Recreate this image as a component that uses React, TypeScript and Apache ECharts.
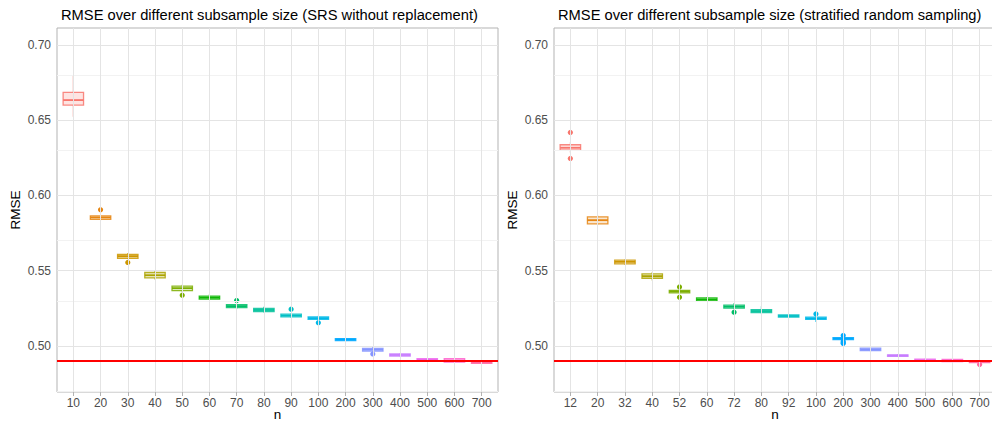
import React, { useEffect, useRef } from "react";
import * as echarts from "echarts";

// ---------- data ----------
const CATS_SRS = ["10", "20", "30", "40", "50", "60", "70", "80", "90", "100", "200", "300", "400", "500", "600", "700"];
const CATS_STRAT = ["12", "20", "32", "40", "52", "60", "72", "80", "92", "100", "200", "300", "400", "500", "600", "700"];

// [lower whisker, Q1, median, Q3, upper whisker]
const BOXES_SRS: number[][] = [
  [0.6523, 0.6601, 0.6634, 0.6685, 0.6800],
  [0.5835, 0.5841, 0.5854, 0.5865, 0.5872],
  [0.5578, 0.5583, 0.5597, 0.5608, 0.5617],
  [0.5442, 0.5452, 0.5470, 0.5488, 0.5504],
  [0.5360, 0.5368, 0.5384, 0.5397, 0.5406],
  [0.5305, 0.5311, 0.5321, 0.5331, 0.5346],
  [0.5246, 0.5255, 0.5265, 0.5275, 0.5280],
  [0.5222, 0.5229, 0.5239, 0.5249, 0.5260],
  [0.5187, 0.5193, 0.5202, 0.5211, 0.5218],
  [0.5165, 0.5176, 0.5185, 0.5193, 0.5200],
  [0.5032, 0.5036, 0.5043, 0.5049, 0.5054],
  [0.4958, 0.4965, 0.4975, 0.4983, 0.4996],
  [0.4930, 0.4933, 0.4940, 0.4947, 0.4952],
  [0.4895, 0.4900, 0.4908, 0.4916, 0.4920],
  [0.4890, 0.4892, 0.4904, 0.4916, 0.4920],
  [0.4882, 0.4885, 0.4891, 0.4898, 0.4902],
];
// [category index, value]
const OUTLIERS_SRS: number[][] = [
  [1, 0.5905],
  [2, 0.5555],
  [4, 0.5337],
  [6, 0.5302],
  [8, 0.5244],
  [9, 0.5155],
  [11, 0.4947],
];

const BOXES_STRAT: number[][] = [
  [0.6286, 0.6302, 0.6317, 0.6337, 0.6353],
  [0.5805, 0.5811, 0.5836, 0.5858, 0.5867],
  [0.5540, 0.5545, 0.5559, 0.5570, 0.5575],
  [0.5435, 0.5450, 0.5464, 0.5479, 0.5492],
  [0.5345, 0.5353, 0.5362, 0.5370, 0.5378],
  [0.5296, 0.5299, 0.5309, 0.5319, 0.5322],
  [0.5245, 0.5251, 0.5261, 0.5271, 0.5286],
  [0.5216, 0.5222, 0.5232, 0.5242, 0.5264],
  [0.5188, 0.5191, 0.5199, 0.5206, 0.5210],
  [0.5160, 0.5176, 0.5183, 0.5191, 0.5198],
  [0.5038, 0.5043, 0.5049, 0.5056, 0.5060],
  [0.4958, 0.4969, 0.4977, 0.4985, 0.4990],
  [0.4928, 0.4931, 0.4936, 0.4940, 0.4947],
  [0.4895, 0.4898, 0.4905, 0.4912, 0.4916],
  [0.4893, 0.4896, 0.4903, 0.4910, 0.4913],
  [0.4887, 0.4890, 0.4895, 0.4900, 0.4903],
];
const OUTLIERS_STRAT: number[][] = [
  [0, 0.6419],
  [0, 0.6246],
  [4, 0.5392],
  [4, 0.5324],
  [6, 0.5224],
  [9, 0.5213],
  [10, 0.5069],
  [10, 0.5031],
  [10, 0.5022],
  [10, 0.5016],
  [15, 0.4876],
];

const REFERENCE_RMSE = 0.4925;
const Y_TICKS = [0.5, 0.55, 0.6, 0.65, 0.7];
const Y_MINOR = [0.475, 0.525, 0.575, 0.625, 0.675];
const Y_MIN = 0.4694;
const Y_MAX = 0.7113;

const PALETTE = [
  "#F8766D", "#E68613", "#CD9600", "#ABA300", "#7CAE00", "#0CB702", "#00BE67", "#00C19A",
  "#00BFC4", "#00B8E7", "#00A9FF", "#8494FF", "#C77CFF", "#ED68ED", "#FF61CC", "#FF68A1",
];

const TITLES = [
  "RMSE over different subsample size (SRS without replacement)",
  "RMSE over different subsample size (stratified random sampling)",
];

// ---------- styling ----------
const FONT = "'Liberation Sans', Arial, Helvetica, sans-serif";
const BOX_WIDTH = 0.75;
const GRID_LEFT = [57, 554];
const GRID_WIDTH = [441, 442];
const GRID_TOP = 28;
const GRID_HEIGHT = 364;

function buildOption() {
  const grids: any[] = [];
  const xAxes: any[] = [];
  const yAxes: any[] = [];
  const series: any[] = [];
  const titles: any[] = [];
  const panels = [
    { cats: CATS_SRS, boxes: BOXES_SRS, outliers: OUTLIERS_SRS },
    { cats: CATS_STRAT, boxes: BOXES_STRAT, outliers: OUTLIERS_STRAT },
  ];

  panels.forEach((p, k) => {
    const idx = p.cats.map((_, i) => i);
    grids.push({
      left: GRID_LEFT[k],
      top: GRID_TOP,
      width: GRID_WIDTH[k],
      height: GRID_HEIGHT,
      show: true,
      borderColor: "#B3B3B3",
      borderWidth: 1,
      backgroundColor: "#FFFFFF",
      containLabel: false,
      outerBoundsMode: "none",
    });
    titles.push({
      text: TITLES[k],
      left: GRID_LEFT[k] - 1,
      top: 2,
      textStyle: { fontFamily: FONT, fontSize: 14.7, fontWeight: "normal", color: "#000000" },
    });
    xAxes.push({
      type: "value",
      gridIndex: k,
      min: -0.6,
      max: p.cats.length - 1 + 0.6,
      name: "n",
      nameLocation: "middle",
      nameGap: 15,
      nameMoveOverlap: false,
      nameTextStyle: { fontFamily: FONT, fontSize: 13.5, color: "#000000" },
      axisLine: { show: false },
      axisTick: { show: true, length: 4, lineStyle: { color: "#B3B3B3", width: 1 }, customValues: idx },
      axisLabel: {
        show: true,
        margin: 5,
        fontFamily: FONT,
        fontSize: 12,
        color: "#4D4D4D",
        customValues: idx,
        formatter: (v: number) => p.cats[Math.round(v)],
      },
      splitLine: { show: false },
    });
    yAxes.push({
      type: "value",
      gridIndex: k,
      min: Y_MIN,
      max: Y_MAX,
      name: "RMSE",
      nameLocation: "middle",
      nameGap: 35,
      nameMoveOverlap: false,
      nameTextStyle: { fontFamily: FONT, fontSize: 13.5, color: "#000000" },
      axisLine: { show: false },
      axisTick: { show: true, length: 4, lineStyle: { color: "#B3B3B3", width: 1 }, customValues: Y_TICKS },
      axisLabel: {
        show: true,
        margin: 6,
        fontFamily: FONT,
        fontSize: 12,
        color: "#4D4D4D",
        customValues: Y_TICKS,
        formatter: (v: number) => v.toFixed(2),
      },
      splitLine: { show: false },
    });

    // grid lines
    series.push({
      type: "line",
      xAxisIndex: k,
      yAxisIndex: k,
      data: [],
      z: 1,
      silent: true,
      markLine: {
        silent: true,
        symbol: ["none", "none"],
        label: { show: false },
        animation: false,
        data: [
          ...Y_MINOR.map((v) => ({ yAxis: v, lineStyle: { color: "#F2F2F2", width: 1, type: "solid" } })),
          ...Y_TICKS.map((v) => ({ yAxis: v, lineStyle: { color: "#E4E4E4", width: 1, type: "solid" } })),
          ...idx.map((v) => ({ xAxis: v, lineStyle: { color: "#E4E4E4", width: 1, type: "solid" } })),
        ],
      },
    });

    // boxes
    series.push({
      type: "custom",
      xAxisIndex: k,
      yAxisIndex: k,
      z: 3,
      clip: true,
      data: p.boxes.map((b, i) => [i, ...b]),
      renderItem: (params: any, api: any) => {
        const i = api.value(0);
        const low = api.coord([i, api.value(1)]);
        const q1 = api.coord([i, api.value(2)]);
        const med = api.coord([i, api.value(3)]);
        const q3 = api.coord([i, api.value(4)]);
        const high = api.coord([i, api.value(5)]);
        const hw = api.size([BOX_WIDTH, 0])[0] / 2;
        const x = med[0];
        const color = PALETTE[i % PALETTE.length];
        const stroke = echarts.color.modifyAlpha(color, 0.85);
        const fill = echarts.color.modifyAlpha(color, 0.2);
        return {
          type: "group",
          children: [
            { type: "line", shape: { x1: x, y1: high[1], x2: x, y2: q3[1] }, style: { stroke, lineWidth: 1.1 } },
            { type: "line", shape: { x1: x, y1: q1[1], x2: x, y2: low[1] }, style: { stroke, lineWidth: 1.1 } },
            {
              type: "rect",
              shape: { x: x - hw, y: q3[1], width: 2 * hw, height: q1[1] - q3[1] },
              style: { fill, stroke, lineWidth: 1.3 },
            },
            { type: "line", shape: { x1: x - hw, y1: med[1], x2: x + hw, y2: med[1] }, style: { stroke: color, lineWidth: 1.8 } },
          ],
        };
      },
    });

    // outliers
    series.push({
      type: "custom",
      xAxisIndex: k,
      yAxisIndex: k,
      z: 4,
      clip: true,
      data: p.outliers,
      renderItem: (params: any, api: any) => {
        const i = api.value(0);
        const pt = api.coord([i, api.value(1)]);
        return {
          type: "circle",
          shape: { cx: pt[0], cy: pt[1], r: 2.6 },
          style: { fill: PALETTE[i % PALETTE.length], stroke: "none" },
        };
      },
    });

    // reference line
    series.push({
      type: "line",
      xAxisIndex: k,
      yAxisIndex: k,
      data: [],
      z: 5,
      markLine: {
        silent: true,
        symbol: ["none", "none"],
        label: { show: false },
        animation: false,
        lineStyle: { color: "#FF0000", width: 2, type: "solid" },
        data: [{ yAxis: REFERENCE_RMSE }],
      },
    });
  });

  return {
    animation: false,
    backgroundColor: "#FFFFFF",
    textStyle: { fontFamily: FONT },
    title: titles,
    grid: grids,
    xAxis: xAxes,
    yAxis: yAxes,
    series,
  };
}

export default function App() {
  const ref = useRef<HTMLDivElement>(null);
  useEffect(() => {
    if (!ref.current) return;
    const chart = echarts.init(ref.current, undefined, { renderer: "svg" });
    chart.setOption(buildOption());
    return () => chart.dispose();
  }, []);
  return (
    <div
      ref={ref}
      style={{ position: "fixed", left: 0, top: 0, width: 992, height: 421, background: "#fff" }}
    />
  );
}
